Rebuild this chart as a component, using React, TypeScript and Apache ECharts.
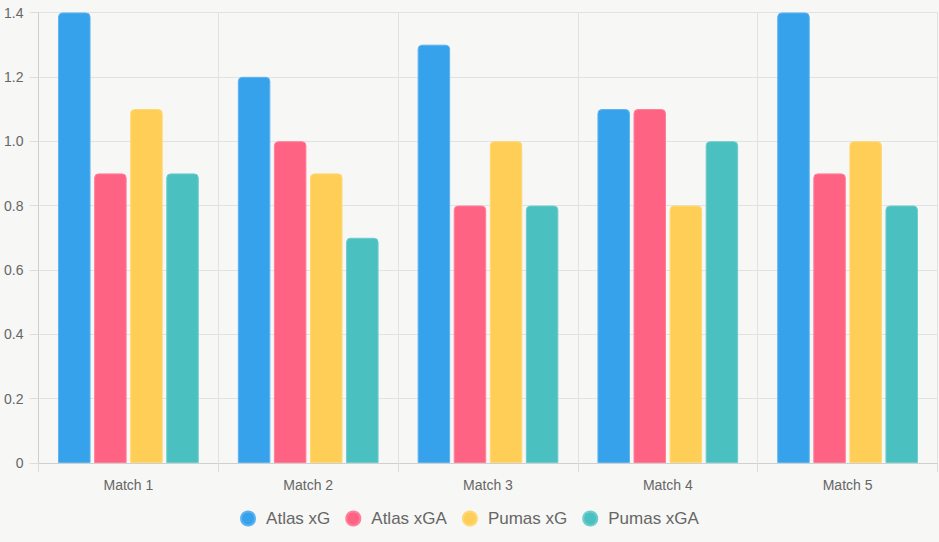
import React, { useEffect, useRef } from "react";
import * as echarts from "echarts";

const categories = ["Match 1", "Match 2", "Match 3", "Match 4", "Match 5"];
const seriesNames = ["Atlas xG", "Atlas xGA", "Pumas xG", "Pumas xGA"];
const atlasXG = [1.4, 1.2, 1.3, 1.1, 1.4];
const atlasXGA = [0.9, 1.0, 0.8, 1.1, 0.9];
const pumasXG = [1.1, 0.9, 1.0, 0.8, 1.0];
const pumasXGA = [0.9, 0.7, 0.8, 1.0, 0.8];
const colors = ["#36A2EB", "#FF6384", "#FFCE56", "#4BC0C0"];
const borders = ["#5db3ef", "#ff7f99", "#ffd876", "#6dcccc"];

export default function App() {
  const ref = useRef<HTMLDivElement>(null);
  useEffect(() => {
    if (!ref.current) return;
    const chart = echarts.init(ref.current, undefined, { renderer: "svg" });
    const values = [atlasXG, atlasXGA, pumasXG, pumasXGA];
    const font = "'Liberation Sans', Arial, Helvetica, sans-serif";
    chart.setOption({
      animation: false,
      backgroundColor: "#f7f7f5",
      textStyle: { fontFamily: font },
      grid: { left: 38.5, right: 1.5, top: 12.5, bottom: 79 },
      legend: {
        bottom: 10,
        left: "center",
        icon: "circle",
        itemWidth: 14,
        itemHeight: 14,
        itemGap: 15,
        textStyle: { color: "#666", fontSize: 17, fontFamily: font, padding: [0, 0, 0, 6] },
        data: seriesNames,
      },
      xAxis: {
        type: "category",
        data: categories,
        axisLine: { show: true, lineStyle: { color: "#cfcfcf" } },
        axisTick: { show: true, length: 9, lineStyle: { color: "#dcdcdc" } },
        splitLine: { show: true, lineStyle: { color: "#e2e2e2" } },
        axisLabel: { color: "#666", fontSize: 14, margin: 15, fontFamily: font },
      },
      yAxis: {
        type: "value",
        min: 0,
        max: 1.4,
        interval: 0.2,
        axisLine: { show: true, lineStyle: { color: "#cfcfcf" } },
        axisTick: { show: true, length: 9, lineStyle: { color: "#dcdcdc" } },
        splitLine: { show: true, lineStyle: { color: "#e2e2e2" } },
        axisLabel: {
          color: "#666",
          fontSize: 14,
          margin: 15,
          fontFamily: font,
          formatter: (v: number) => (v === 0 ? "0" : v.toFixed(1)),
        },
      },
      series: seriesNames.map((name, i) => ({
        name,
        type: "bar",
        data: values[i],
        barWidth: 32.5,
        barGap: "11%",
        itemStyle: {
          color: colors[i],
          borderColor: borders[i],
          borderWidth: 1,
          borderRadius: [4, 4, 0, 0],
        },
      })),
    });
    return () => chart.dispose();
  }, []);
  return (
    <div
      ref={ref}
      style={{ position: "absolute", left: 0, top: 0, width: 939, height: 542 }}
    />
  );
}
